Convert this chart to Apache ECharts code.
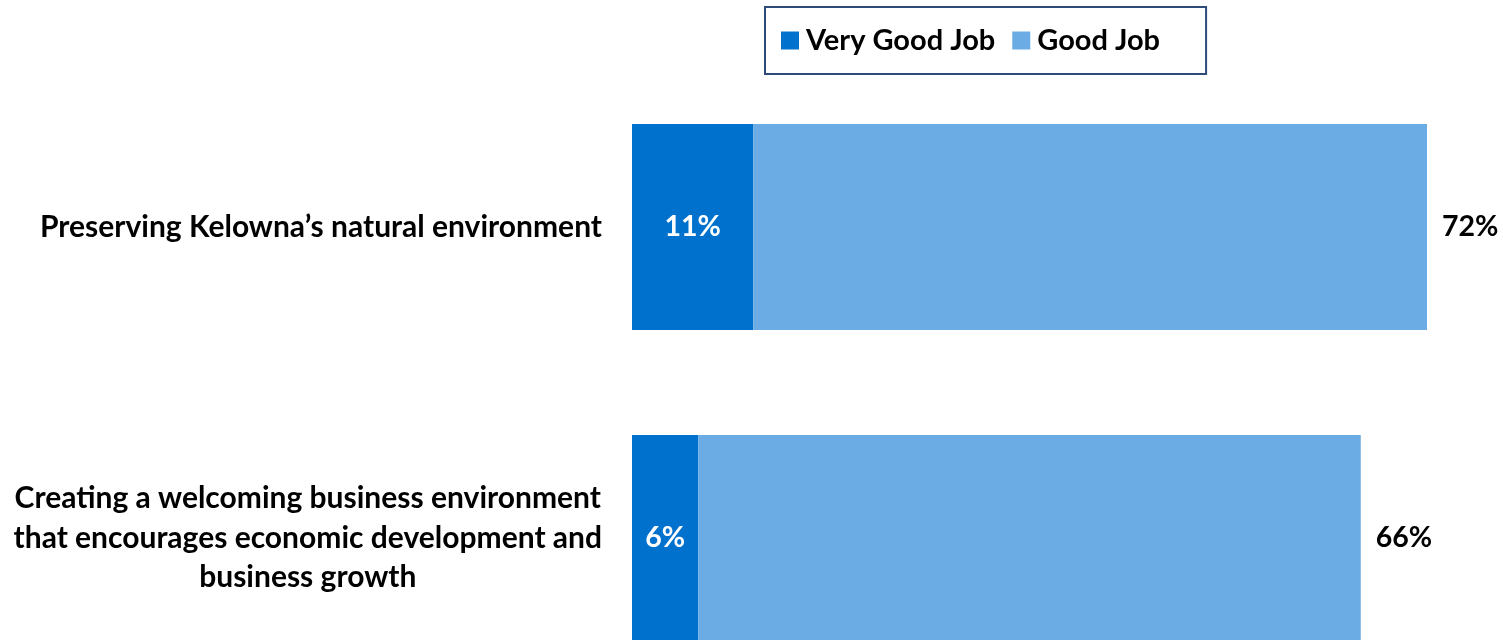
<!DOCTYPE html>
<html>
<head>
<meta charset="utf-8">
<script src="https://cdn.jsdelivr.net/npm/echarts@6/dist/echarts.min.js"></script>
<style>
  html, body { margin: 0; padding: 0; background: #ffffff; }
  #chart { width: 1503px; height: 640px; }
</style>
</head>
<body>
<div id="chart"></div>
<script>
// Survey ratings of two city priorities (percent of respondents)
const categories = [
  "Preserving Kelowna\u2019s natural environment",
  "Creating a welcoming business environment\nthat encourages economic development and\nbusiness growth"
];
const seriesNames = ["Very Good Job", "Good Job"];
const veryGoodJob = [11, 6];
const goodJob = [61, 60];

const FONT = "Lato, 'Noto Sans', sans-serif";
const DARK = "#0071CD";
const LIGHT = "#6AACE3";

const chart = echarts.init(document.getElementById("chart"), null, { renderer: "canvas" });

chart.setOption({
  animation: false,
  textStyle: { fontFamily: FONT },
  legend: {
    data: seriesNames,
    left: 765,
    top: 7,
    orient: "horizontal",
    icon: "rect",
    itemWidth: 18,
    itemHeight: 18,
    itemGap: 17,
    padding: [19, 46, 19, 16],
    borderColor: "#2F4B7C",
    borderWidth: 2,
    textStyle: { fontFamily: FONT, fontWeight: "bold", fontSize: 29, color: "#000000", padding: [0, 0, 0, 2] }
  },
  // Category centres sit on the grid's top and bottom edges (boundaryGap off)
  grid: { left: 632, top: 227, width: 795, height: 311, containLabel: false },
  xAxis: {
    type: "value",
    min: 0,
    max: 72,
    show: false
  },
  yAxis: {
    type: "category",
    data: categories,
    inverse: true,
    boundaryGap: false,
    axisLine: { show: false },
    axisTick: { show: false },
    splitLine: { show: false },
    axisLabel: {
      margin: 30,
      align: "right",
      formatter: function (value) {
        return value.split("\n").map(function (line) { return "{c|" + line + "}"; }).join("\n");
      },
      rich: {
        c: {
          fontFamily: FONT,
          fontWeight: "bold",
          fontSize: 30,
          lineHeight: 39.5,
          color: "#000000",
          align: "center"
        }
      }
    }
  },
  series: [
    {
      name: seriesNames[0],
      type: "bar",
      stack: "total",
      data: veryGoodJob,
      barWidth: 206,
      clip: false,
      itemStyle: { color: DARK },
      label: {
        show: true,
        position: "inside",
        formatter: "{c}%",
        color: "#ffffff",
        fontFamily: FONT,
        fontWeight: "bold",
        fontSize: 28.5
      }
    },
    {
      name: seriesNames[1],
      type: "bar",
      stack: "total",
      data: goodJob,
      barWidth: 206,
      clip: false,
      itemStyle: { color: LIGHT },
      label: {
        show: true,
        position: "right",
        distance: 15,
        formatter: function (p) { return (veryGoodJob[p.dataIndex] + goodJob[p.dataIndex]) + "%"; },
        color: "#000000",
        fontFamily: FONT,
        fontWeight: "bold",
        fontSize: 28.5
      }
    }
  ]
});
</script>
</body>
</html>
